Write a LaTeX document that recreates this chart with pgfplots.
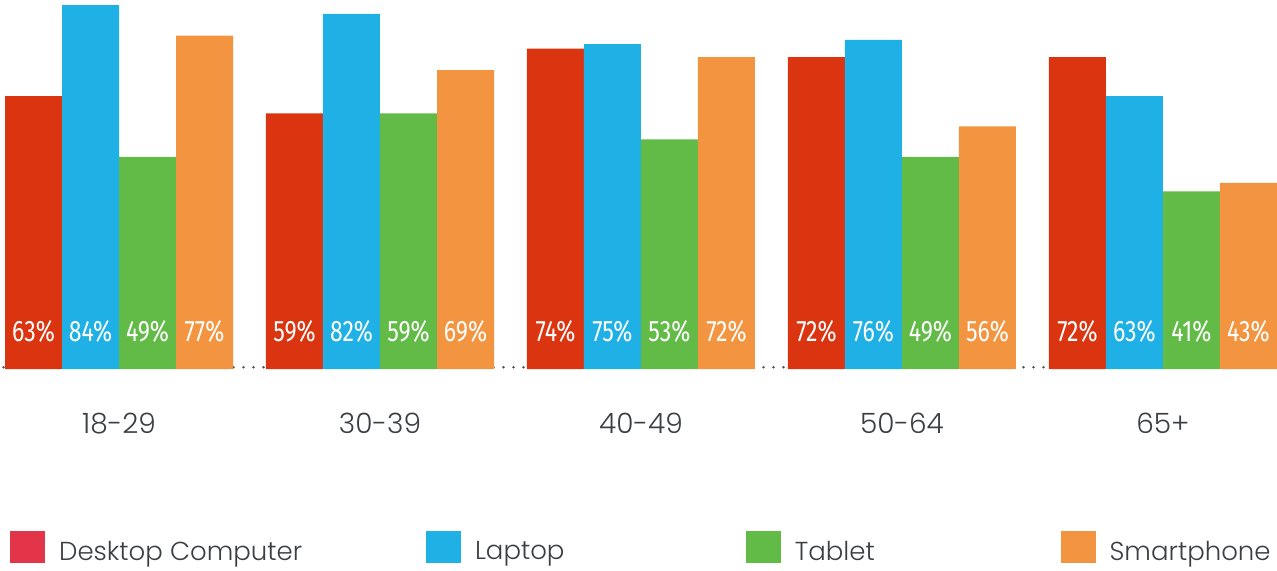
\documentclass[border=0pt]{standalone}
\usepackage{pgfplots}
\pgfplotsset{compat=1.18}
\usepackage{pgfplotstable}
\usepackage{fontspec}
\setmainfont{Poppins}[UprightFont=* Light]
\newfontfamily\condfont{Fira Sans}[FakeStretch=0.78]

\definecolor{desk}{HTML}{DA3510}
\definecolor{deskkey}{HTML}{E3354A}
\definecolor{lap}{HTML}{1FB1E5}
\definecolor{tab}{HTML}{62BB47}
\definecolor{phone}{HTML}{F39540}
\definecolor{ink}{HTML}{3B3E43}

% share of each age group using a device (%)
\pgfplotstableread{
x desk lap tab phone
0 63 84 49 77
1 59 82 59 69
2 74 75 53 72
3 72 76 49 56
4 72 63 41 43
}\usage

\pgfplotsset{keybox/.style={legend image code/.code={\fill[#1] (0pt,-5.25pt) rectangle (17pt,10.25pt);}}}

\begin{document}
\begin{tikzpicture}
\begin{axis}[
  set layers,
  scale only axis, width=638.5pt, height=184.5pt,
  xmin=-0.456, xmax=4.437, ymin=0, ymax=85.2,
  ybar=0pt, bar width=28.5pt,
  axis x line=bottom, axis y line=none,
  x axis line style={-, draw=ink!90, line width=1.4pt, line cap=round,
    dash pattern=on 0pt off 5pt, dash phase=3.25pt, yshift=0.9pt},
  xtick={0,...,4}, xticklabels={18-29,30-39,40-49,50-64,65+},
  major tick length=0pt,
  xticklabel style={font=\fontsize{14}{14}\selectfont, text=ink, anchor=base, yshift=-32pt},
  /pgf/number format/assume math mode=true,
  visualization depends on={y \as \rawy},
  nodes near coords={\pgfmathprintnumber{\pgfplotspointmeta}\%},
  nodes near coords style={font=\condfont\fontsize{14.8}{14.8}\selectfont, text=white, anchor=center,
    shift={(axis direction cs:0,-\rawy)}, yshift=19pt},
  legend columns=4,
  legend cell align=left,
  legend style={at={(axis description cs:0,0)}, anchor=west, xshift=5pt, yshift=-89pt,
    draw=none, fill=none, inner sep=0pt, column sep=7pt,
    font=\fontsize{13}{13}\selectfont, text=ink, nodes={inner sep=0pt}},
]
\addplot[fill=desk, draw=none, bar shift=-42.75pt, forget plot] table[x=x, y=desk]{\usage};
\addplot[fill=lap, draw=none, bar shift=-14.25pt, forget plot] table[x=x, y=lap]{\usage};
\addplot[fill=tab, draw=none, bar shift=14.25pt, forget plot] table[x=x, y=tab]{\usage};
\addplot[fill=phone, draw=none, bar shift=42.75pt, forget plot] table[x=x, y=phone]{\usage};

\addlegendimage{keybox=deskkey}
\addlegendentry{\makebox[176.5pt][l]{Desktop Computer}}
\addlegendimage{keybox=lap}
\addlegendentry{\makebox[128.5pt][l]{Laptop}}
\addlegendimage{keybox=tab}
\addlegendentry{\makebox[126pt][l]{Tablet}}
\addlegendimage{keybox=phone}
\addlegendentry{Smartphone}
\end{axis}
\pgfresetboundingbox
\path (current axis.north west) rectangle ([yshift=-100.5pt]current axis.south east);
\end{tikzpicture}
\end{document}
